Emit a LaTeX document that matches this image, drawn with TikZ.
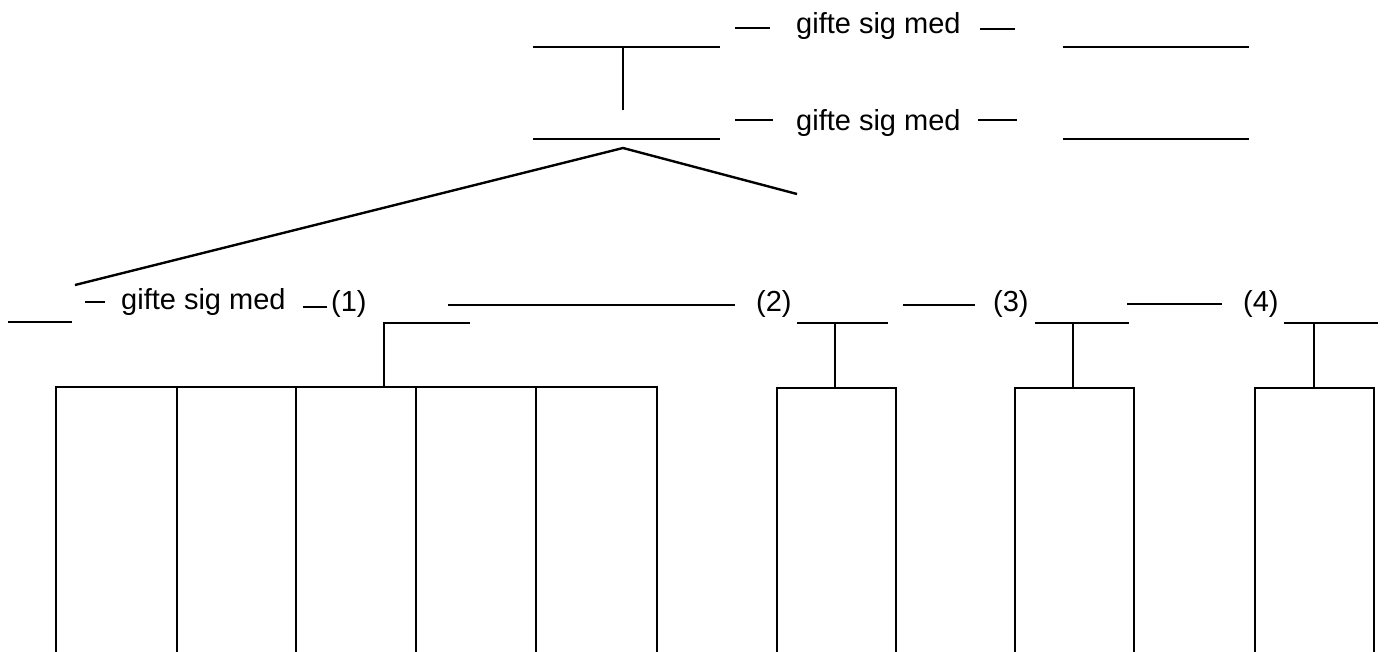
\documentclass[tikz,border=0pt]{standalone}
\usepackage{fontspec}
\setmainfont{Liberation Sans}
\begin{document}
\begin{tikzpicture}[x=1pt,y=-1pt, line width=2.4pt,
  lbl/.style={inner sep=0pt, anchor=base west, font=\fontsize{29}{34}\selectfont},
  thin line/.style={line width=2pt}]
\useasboundingbox (0,0) rectangle (1386,651);
% --- top couple ---
\coordinate (p1l) at (533,47);  \coordinate (p1r) at (720,47);  \coordinate (p1m) at (623,47);
\coordinate (p1s) at (623,110);
\coordinate (p2l) at (533,139); \coordinate (p2r) at (720,139);
\coordinate (apex) at (623,148);
\coordinate (brl) at (75,285);  \coordinate (brr) at (797,194);
\coordinate (s1l) at (1063,47);  \coordinate (s1r) at (1249,47);
\coordinate (s2l) at (1063,139); \coordinate (s2r) at (1249,139);
\draw (p1l) -- (p1r);
\draw (p1m) -- (p1s);
\draw (p2l) -- (p2r);
\draw (brl) -- (apex) -- (brr);
\draw (s1l) -- (s1r);
\draw (s2l) -- (s2r);
% dashes and labels
\coordinate (d1a) at (735,28); \coordinate (d1b) at (770,28);
\coordinate (d2a) at (980,29); \coordinate (d2b) at (1015,29);
\coordinate (d3a) at (735,120); \coordinate (d3b) at (773,120);
\coordinate (d4a) at (978,120); \coordinate (d4b) at (1017,120);
\draw (d1a) -- (d1b); \draw (d2a) -- (d2b);
\draw (d3a) -- (d3b); \draw (d4a) -- (d4b);
\node[lbl] (t1) at (795,33) {gifte sig med};
\node[lbl] (t2) at (795,130) {gifte sig med};
% --- row 3 ---
\coordinate (q0l) at (8,322); \coordinate (q0r) at (72,322);
\draw (q0l) -- (q0r);
\coordinate (e1a) at (85,302); \coordinate (e1b) at (105,302);
\draw (e1a) -- (e1b);
\node[lbl] (t3) at (120,309) {gifte sig med};
\coordinate (e2a) at (303,307); \coordinate (e2b) at (327,307);
\draw (e2a) -- (e2b);
\node[lbl] (n1) at (330,311) {(1)};
\coordinate (c1l) at (384,323); \coordinate (c1r) at (470,323);
\coordinate (c1b) at (384,387);
\draw (c1r) -- (c1l) -- (c1b);
\coordinate (f2a) at (448,305); \coordinate (f2b) at (735,305);
\draw (f2a) -- (f2b);
\node[lbl] (n2) at (755,311) {(2)};
\coordinate (c2l) at (797,323); \coordinate (c2r) at (888,323);
\coordinate (c2m) at (835,323); \coordinate (c2b) at (835,388);
\draw (c2l) -- (c2r); \draw[thin line] (c2m) -- (c2b);
\coordinate (f3a) at (903,305); \coordinate (f3b) at (975,305);
\draw (f3a) -- (f3b);
\node[lbl] (n3) at (992,311) {(3)};
\coordinate (c3l) at (1035,323); \coordinate (c3r) at (1129,323);
\coordinate (c3m) at (1073,323); \coordinate (c3b) at (1073,388);
\draw (c3l) -- (c3r); \draw[thin line] (c3m) -- (c3b);
\coordinate (f4a) at (1127,304); \coordinate (f4b) at (1222,304);
\draw (f4a) -- (f4b);
\node[lbl] (n4) at (1242,311) {(4)};
\coordinate (c4l) at (1284,323); \coordinate (c4r) at (1378,323);
\coordinate (c4m) at (1314,323); \coordinate (c4b) at (1314,388);
\draw (c4l) -- (c4r); \draw[thin line] (c4m) -- (c4b);
% --- children boxes (open at bottom) ---
\draw[thin line] (56,655) -- (56,387) -- (657,387) -- (657,655);
\foreach \x in {177,296,416,536} \draw[thin line] (\x,387) -- (\x,655);
\draw[thin line] (777,655) -- (777,388) -- (896,388) -- (896,655);
\draw[thin line] (1015,655) -- (1015,388) -- (1134,388) -- (1134,655);
\draw[thin line] (1255,655) -- (1255,388) -- (1374,388) -- (1374,655);
\end{tikzpicture}
\end{document}
